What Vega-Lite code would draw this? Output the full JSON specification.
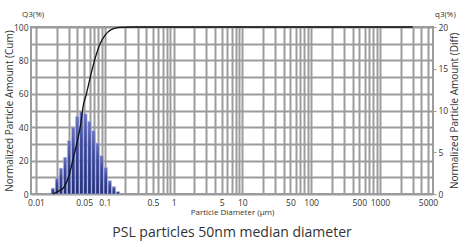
{
  "$schema": "https://vega.github.io/schema/vega-lite/v6.json",
  "autosize": {"type": "none"},
  "width": 402,
  "height": 167,
  "padding": {"left": 31, "top": 27, "right": 32, "bottom": 53},
  "title": {"text": "PSL particles 50nm median diameter", "orient": "bottom", "anchor": "middle", "fontSize": 14, "font": "Open Sans", "fontWeight": "normal", "color": "#333333", "offset": 9},
  "config": {
    "view": {"stroke": "#9c9c9c", "strokeWidth": 2},
    "font": "Open Sans",
    "axis": {"labelFont": "Open Sans", "titleFont": "Open Sans", "labelColor": "#333333", "titleColor": "#333333", "labelFontSize": 8.5, "titleFontWeight": "normal", "domain": false, "gridColor": "#9c9c9c", "gridWidth": 2, "gridOpacity": 1}
  },
  "datasets": {
    "diff": [
      {"d": 0.0176, "q": 0.7}, {"d": 0.0202, "q": 1.9}, {"d": 0.0231, "q": 3.1}, {"d": 0.0265, "q": 4.4},
      {"d": 0.0303, "q": 6.4}, {"d": 0.0348, "q": 8.0}, {"d": 0.0398, "q": 9.3}, {"d": 0.0456, "q": 9.9},
      {"d": 0.0523, "q": 9.6}, {"d": 0.0599, "q": 8.7}, {"d": 0.0686, "q": 7.6}, {"d": 0.0787, "q": 6.1},
      {"d": 0.0901, "q": 4.6}, {"d": 0.1033, "q": 3.2}, {"d": 0.1183, "q": 1.6}, {"d": 0.1356, "q": 0.9},
      {"d": 0.1554, "q": 0.3}
    ],
    "cum": [
      {"d": 0.0176, "Q": 0}, {"d": 0.0219, "Q": 2}, {"d": 0.0258, "Q": 4.4}, {"d": 0.0304, "Q": 11.4},
      {"d": 0.0357, "Q": 23.4}, {"d": 0.0398, "Q": 31.4}, {"d": 0.0445, "Q": 41.4}, {"d": 0.0484, "Q": 52.4},
      {"d": 0.0541, "Q": 60}, {"d": 0.0616, "Q": 70}, {"d": 0.071, "Q": 80}, {"d": 0.0855, "Q": 90},
      {"d": 0.1006, "Q": 95}, {"d": 0.1237, "Q": 98.4}, {"d": 0.164, "Q": 99.8}, {"d": 0.25, "Q": 100},
      {"d": 3000, "Q": 100}
    ]
  },
  "layer": [
    {
      "data": {"name": "diff"},
      "mark": {"type": "bar", "size": 3.4, "stroke": "#c0c4ea", "strokeWidth": 0.5,
        "fill": {"gradient": "linear", "x1": 0, "y1": 0, "x2": 0, "y2": 1, "stops": [{"offset": 0, "color": "#6a74bd"}, {"offset": 0.35, "color": "#3b479a"}, {"offset": 1, "color": "#222f7a"}]}},
      "encoding": {
        "x": {"field": "d", "type": "quantitative", "scale": {"type": "log", "domain": [0.01, 5000], "nice": false},
          "axis": {"title": "Particle Diameter (µm)", "titleFontSize": 8, "titlePadding": 2, "ticks": false, "labelPadding": 4, "labelOverlap": false, "labelFlush": false,
            "values": [0.01,0.02,0.03,0.04,0.05,0.06,0.07,0.08,0.09,0.1,0.2,0.3,0.4,0.5,0.6,0.7,0.8,0.9,1,2,3,4,5,6,7,8,9,10,20,30,40,50,60,70,80,90,100,200,300,400,500,600,700,800,900,1000,2000,3000,4000,5000],
            "labelExpr": "indexof(['0.01','0.05','0.1','0.5','1','5','10','50','100','500','1000','5000'], format(datum.value, '~g')) >= 0 ? format(datum.value, '~g') : ''"}},
        "y": {"field": "q", "type": "quantitative", "scale": {"domain": [0, 20], "nice": false},
          "axis": {"orient": "right", "title": "Normalized Particle Amount (Diff)", "titleFontSize": 10, "values": [0, 5, 10, 15, 20], "grid": false, "ticks": true, "tickSize": 3, "tickColor": "#9c9c9c", "labelPadding": 2,
            "titleAngle": -90, "titleBaseline": "middle", "titleX": 21, "titleY": 83.5}}
      }
    },
    {
      "data": {"name": "cum"},
      "mark": {"type": "line", "color": "#111111", "strokeWidth": 1.3, "interpolate": "monotone"},
      "encoding": {
        "x": {"field": "d", "type": "quantitative", "scale": {"type": "log", "domain": [0.01, 5000], "nice": false}},
        "y": {"field": "Q", "type": "quantitative", "scale": {"domain": [0, 100], "nice": false},
          "axis": {"orient": "left", "title": "Normalized Particle Amount (Cum)", "titleFontSize": 10, "values": [0,10,20,30,40,50,60,70,80,90,100],
            "labelExpr": "datum.value % 20 == 0 ? datum.label : ''", "ticks": false, "labelPadding": 3, "grid": true,
            "titleAngle": -90, "titleBaseline": "middle", "titleX": -22, "titleY": 83.5}}
      }
    },
    {
      "data": {"values": [{"t": "Q3(%)"}]},
      "mark": {"type": "text", "fontSize": 8, "color": "#333333", "dx": -14, "dy": -12, "align": "left"},
      "encoding": {
        "text": {"field": "t"},
        "x": {"datum": 0.01, "type": "quantitative", "scale": {"type": "log", "domain": [0.01, 5000], "nice": false}},
        "y": {"datum": 100, "type": "quantitative", "scale": {"domain": [0, 100], "nice": false}, "axis": null}
      }
    },
    {
      "data": {"values": [{"t": "q3(%)"}]},
      "mark": {"type": "text", "fontSize": 8, "color": "#333333", "dx": 7, "dy": -12, "align": "left"},
      "encoding": {
        "text": {"field": "t"},
        "x": {"datum": 5000, "type": "quantitative", "scale": {"type": "log", "domain": [0.01, 5000], "nice": false}},
        "y": {"datum": 20, "type": "quantitative", "scale": {"domain": [0, 20], "nice": false}, "axis": null}
      }
    }
  ],
  "resolve": {"scale": {"y": "independent"}}
}
